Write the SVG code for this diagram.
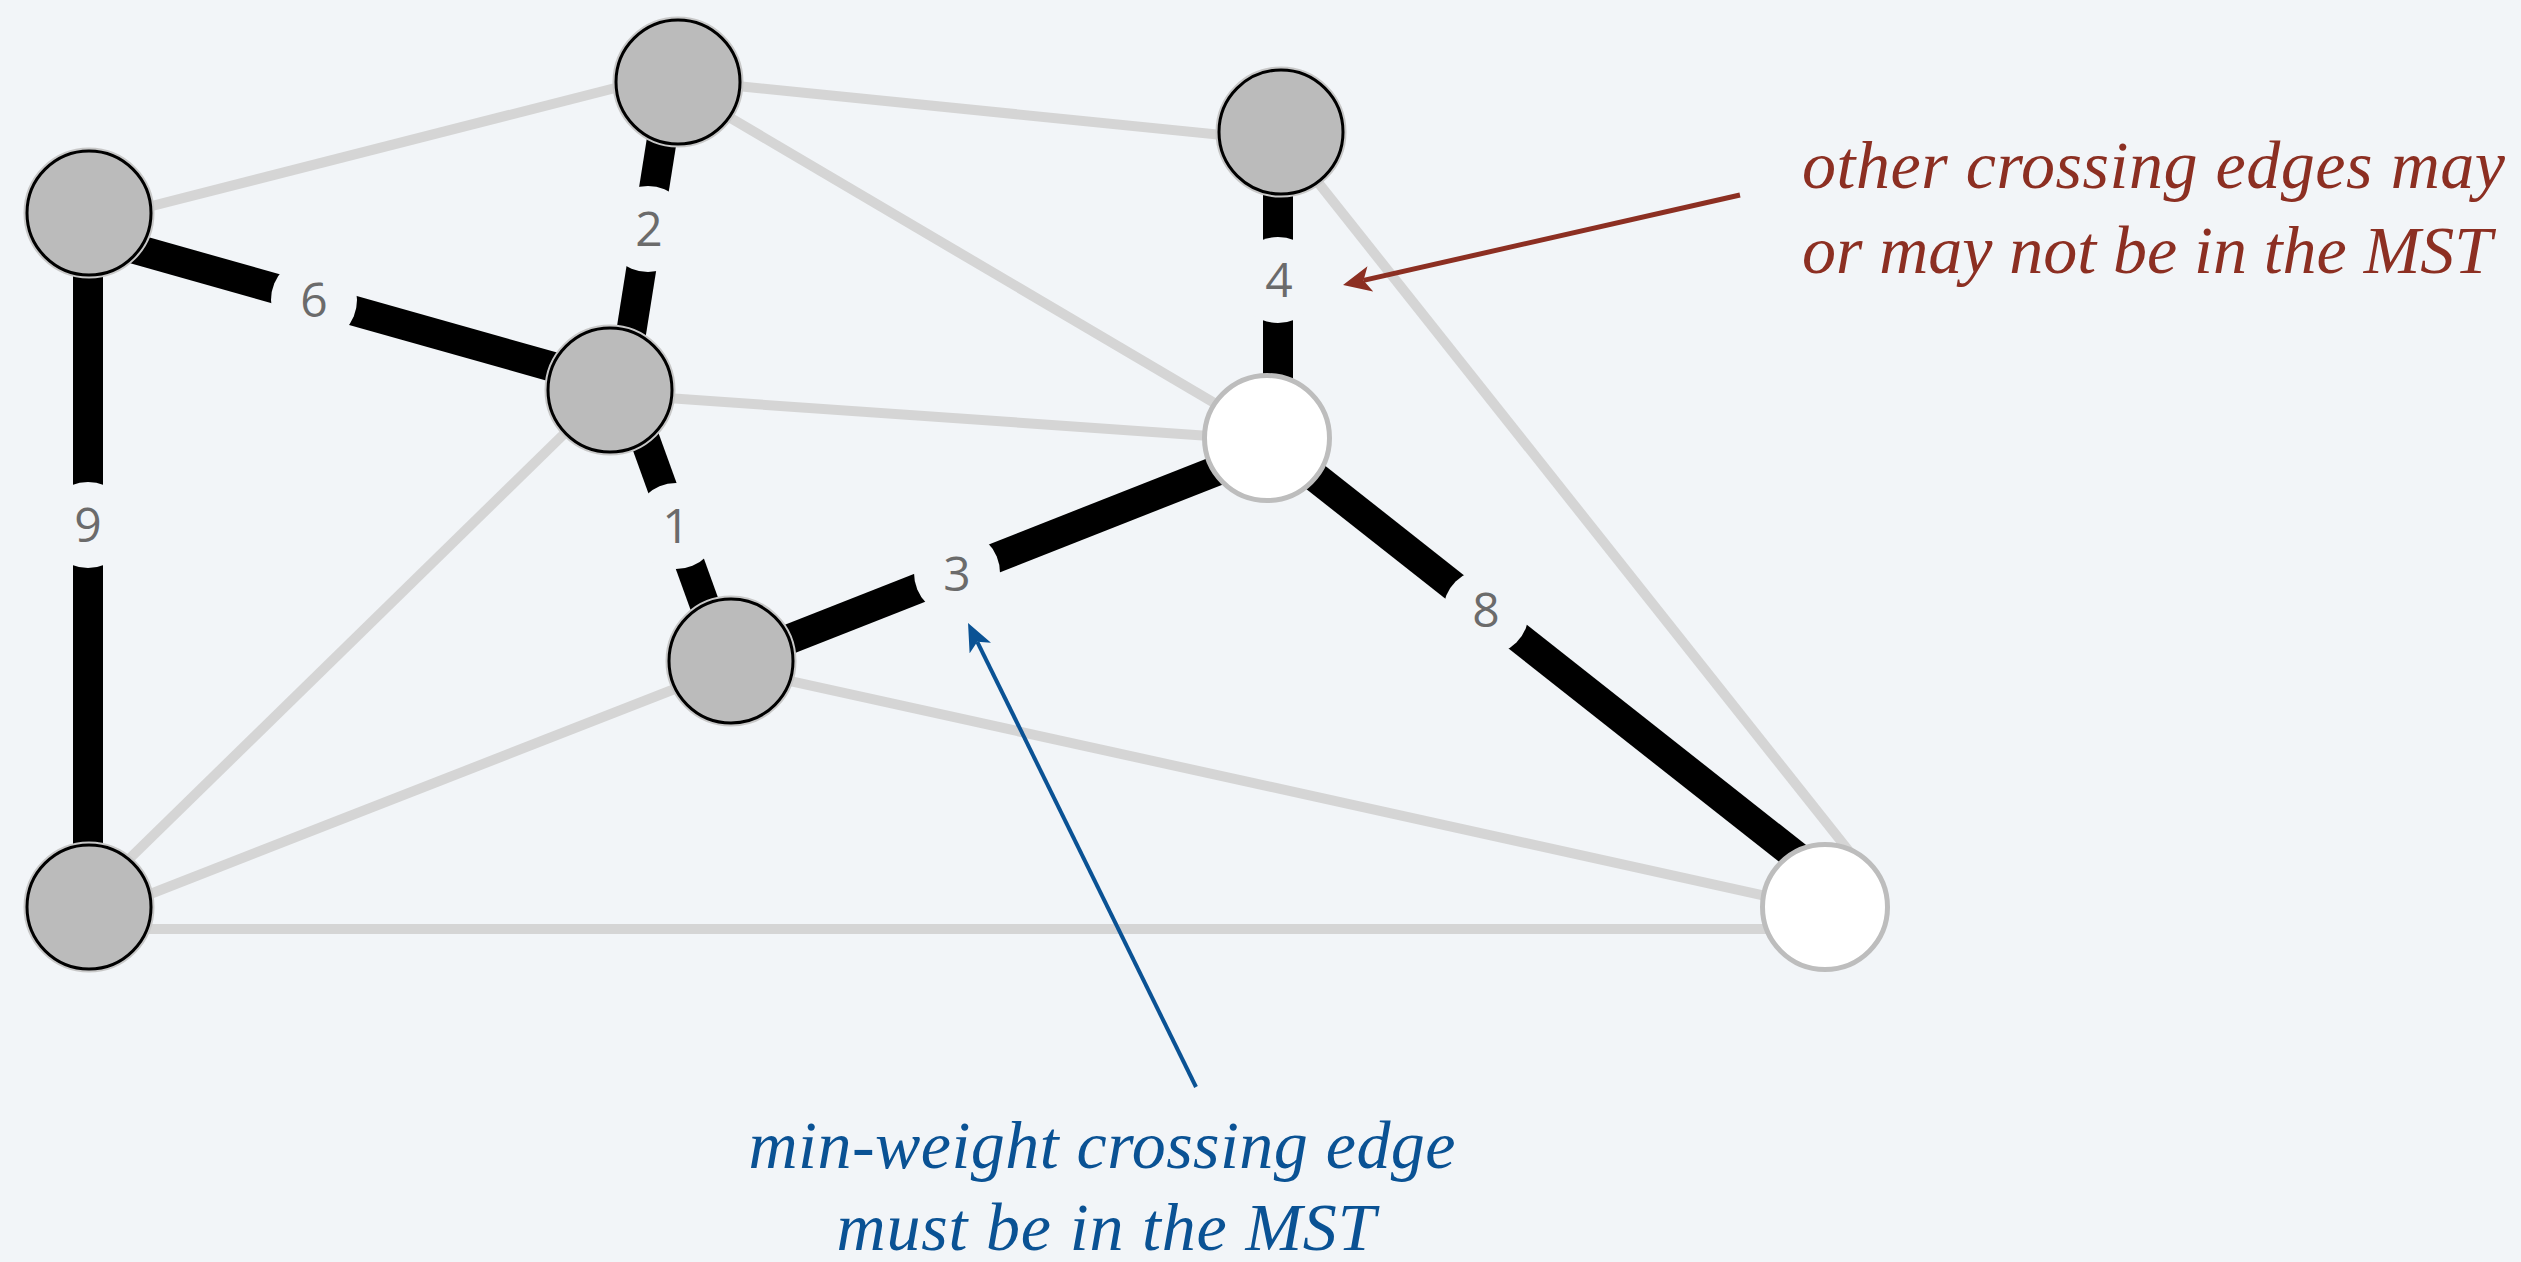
<svg xmlns="http://www.w3.org/2000/svg" width="2521" height="1262" viewBox="0 0 2521 1262">
  <style>
    .bg { fill: #f2f5f8; }
    .edge { stroke: #d5d5d5; stroke-width: 10; fill: none; }
    .tree { stroke: #000000; stroke-width: 30; fill: none; }
    .gap { fill: #f2f5f8; }
    .wt { font-family: "Open Sans", "DejaVu Sans", sans-serif; font-size: 48px; fill: #6b6b6b; text-anchor: middle; }
    .halo { fill: none; stroke: #c8c8c8; stroke-width: 4; }
    .marked { fill: #bbbbbb; stroke: #000000; stroke-width: 3; }
    .open { fill: #ffffff; stroke: #bdbdbd; stroke-width: 5; }
    .note { font-family: "Liberation Serif", "Times New Roman", serif; font-style: italic; font-size: 68px; }
    .red { fill: #8c2f22; }
    .blue { fill: #0a5294; }
  </style>
  <defs>
    <marker id="head-red" markerUnits="userSpaceOnUse" markerWidth="28" markerHeight="26" viewBox="0 0 28 26" refX="7" refY="13" orient="auto">
      <path d="M0,0 L28,13 L0,26 L7,13 Z" fill="#8c2f22"/>
    </marker>
    <marker id="head-blue" markerUnits="userSpaceOnUse" markerWidth="28" markerHeight="24" viewBox="0 0 28 24" refX="7" refY="12" orient="auto">
      <path d="M0,0 L28,12 L0,24 L7,12 Z" fill="#0a5294"/>
    </marker>
  </defs>

  <rect class="bg" x="0" y="0" width="2521" height="1262"/>

  <g id="connectors">
    <!-- non-tree edges -->
    <line class="edge" x1="89" y1="222" x2="678" y2="72"/>
    <line class="edge" x1="678" y1="80" x2="1281" y2="141"/>
    <line class="edge" x1="678" y1="87" x2="1267" y2="434"/>
    <line class="edge" x1="1278" y1="132" x2="1860" y2="865"/>
    <line class="edge" x1="610" y1="394" x2="1267" y2="440"/>
    <line class="edge" x1="609" y1="390" x2="80" y2="907"/>
    <line class="edge" x1="731" y1="667" x2="89" y2="918"/>
    <line class="edge" x1="731" y1="668" x2="1825" y2="909"/>
    <line class="edge" x1="89" y1="929" x2="1825" y2="929"/>

    <!-- tree edges -->
    <line class="tree" x1="89" y1="236" x2="610" y2="383"/>
    <line class="tree" x1="671" y1="82" x2="622" y2="390"/>
    <line class="tree" x1="88" y1="213" x2="88" y2="907"/>
    <line class="tree" x1="627" y1="390" x2="725" y2="661"/>
    <line class="tree" x1="731" y1="662" x2="1267" y2="451"/>
    <line class="tree" x1="1278" y1="132" x2="1278" y2="438"/>
    <line class="tree" x1="1267" y1="439" x2="1825" y2="879"/>

    <!-- weight labels -->
    <g id="w6"><circle class="gap" cx="314" cy="300" r="43"/><text class="wt" x="314" y="317">6</text></g>
    <g id="w2"><circle class="gap" cx="648" cy="229" r="43"/><text class="wt" x="649" y="246">2</text></g>
    <g id="w9"><circle class="gap" cx="88" cy="525" r="43"/><text class="wt" x="88" y="542">9</text></g>
    <g id="w1"><circle class="gap" cx="676" cy="526" r="43"/><text class="wt" x="676" y="543">1</text></g>
    <g id="w3"><circle class="gap" cx="957" cy="573" r="43"/><text class="wt" x="957" y="591">3</text></g>
    <g id="w4"><circle class="gap" cx="1278" cy="280" r="43"/><text class="wt" x="1279" y="297">4</text></g>
    <g id="w8"><circle class="gap" cx="1486" cy="612" r="43"/><text class="wt" x="1486" y="627">8</text></g>
  </g>

  <g id="node-a"><circle class="halo" cx="678" cy="82" r="63.5"/><circle class="marked" cx="678" cy="82" r="62"/></g>
  <g id="node-b"><circle class="halo" cx="89" cy="213" r="63.5"/><circle class="marked" cx="89" cy="213" r="62"/></g>
  <g id="node-c"><circle class="halo" cx="1281" cy="132" r="63.5"/><circle class="marked" cx="1281" cy="132" r="62"/></g>
  <g id="node-d"><circle class="halo" cx="610" cy="390" r="63.5"/><circle class="marked" cx="610" cy="390" r="62"/></g>
  <g id="node-e"><circle class="open" cx="1267" cy="438" r="62.5"/></g>
  <g id="node-f"><circle class="halo" cx="731" cy="661" r="63.5"/><circle class="marked" cx="731" cy="661" r="62"/></g>
  <g id="node-g"><circle class="halo" cx="89" cy="907" r="63.5"/><circle class="marked" cx="89" cy="907" r="62"/></g>
  <g id="node-h"><circle class="open" cx="1825" cy="907" r="62.5"/></g>

  <!-- annotations -->
  <g id="note-other">
    <line x1="1740" y1="195" x2="1363.5" y2="280.4" stroke="#8c2f22" stroke-width="5" marker-end="url(#head-red)"/>
    <text class="note red" x="1802" y="188" textLength="703" lengthAdjust="spacing">other crossing edges may</text>
    <text class="note red" x="1802" y="273" textLength="690" lengthAdjust="spacing">or may not be in the MST</text>
  </g>
  <g id="note-min">
    <line x1="1196" y1="1087" x2="977.3" y2="641.8" stroke="#0a5294" stroke-width="4" marker-end="url(#head-blue)"/>
    <text class="note blue" x="1102" y="1168" text-anchor="middle" textLength="707" lengthAdjust="spacing">min-weight crossing edge</text>
    <text class="note blue" x="1106" y="1250" text-anchor="middle" textLength="539" lengthAdjust="spacing">must be in the MST</text>
  </g>
</svg>
